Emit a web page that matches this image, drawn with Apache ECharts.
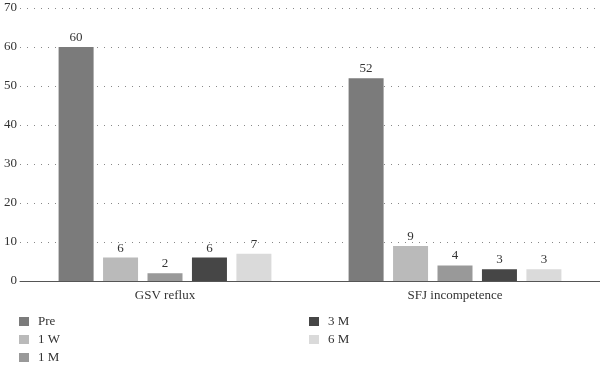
<!DOCTYPE html>
<html>
<head>
<meta charset="utf-8">
<script src="https://cdn.jsdelivr.net/npm/echarts@6/dist/echarts.min.js"></script>
<style>html,body{margin:0;padding:0;background:#fff}#c{width:600px;height:367px}</style>
</head>
<body>
<div id="c"></div>
<script>
const categories = ['GSV reflux', 'SFJ incompetence'];
const seriesNames = ['Pre', '1 W', '1 M', '3 M', '6 M'];
const pre = [60, 52];
const w1 = [6, 9];
const m1 = [2, 4];
const m3 = [6, 3];
const m6 = [7, 3];
const seriesValues = [pre, w1, m1, m3, m6];
const colors = ['#7b7b7b', '#bababa', '#999999', '#464646', '#dadada'];
const yTicks = [0, 10, 20, 30, 40, 50, 60, 70];

const font = '"Liberation Serif", "DejaVu Serif", serif';
const chart = echarts.init(document.getElementById('c'), null, {renderer: 'canvas'});
// legend layout: two columns, left column 3 rows, right column 2 rows
const legendPos = [[19, 315], [19, 333], [19, 351], [309, 315], [309, 333]];
const legends = seriesNames.map((name, i) => ({
  orient: 'horizontal',
  left: legendPos[i][0],
  top: legendPos[i][1],
  itemWidth: 10,
  itemHeight: 9,
  icon: 'rect',
  padding: 0,
  data: [name],
  textStyle: {fontFamily: font, fontSize: 13, color: '#333', padding: [0, 0, 0, 4]}
}));
chart.setOption({
  animation: false,
  backgroundColor: '#fff',
  textStyle: {fontFamily: font},
  grid: {left: 20, right: 0, top: 8, bottom: 86, containLabel: false},
  legend: legends,
  xAxis: {
    type: 'category',
    data: categories,
    axisLine: {lineStyle: {color: '#555', width: 1}},
    axisTick: {show: false},
    axisLabel: {fontFamily: font, fontSize: 13, color: '#333', margin: 8}
  },
  yAxis: {
    type: 'value',
    min: yTicks[0],
    max: yTicks[yTicks.length - 1],
    interval: 10,
    axisLine: {show: false},
    axisTick: {show: false},
    axisLabel: {fontFamily: font, fontSize: 13, color: '#333', margin: 3},
    splitLine: {lineStyle: {color: '#888', type: [1, 6], width: 1}}
  },
  series: seriesNames.map((name, i) => ({
    name: name,
    type: 'bar',
    data: seriesValues[i],
    barWidth: 35,
    barGap: '27%',
    itemStyle: {color: colors[i]},
    label: {show: true, position: 'top', distance: 3, fontFamily: font, fontSize: 13, color: '#333'}
  }))
});
</script>
</body>
</html>
